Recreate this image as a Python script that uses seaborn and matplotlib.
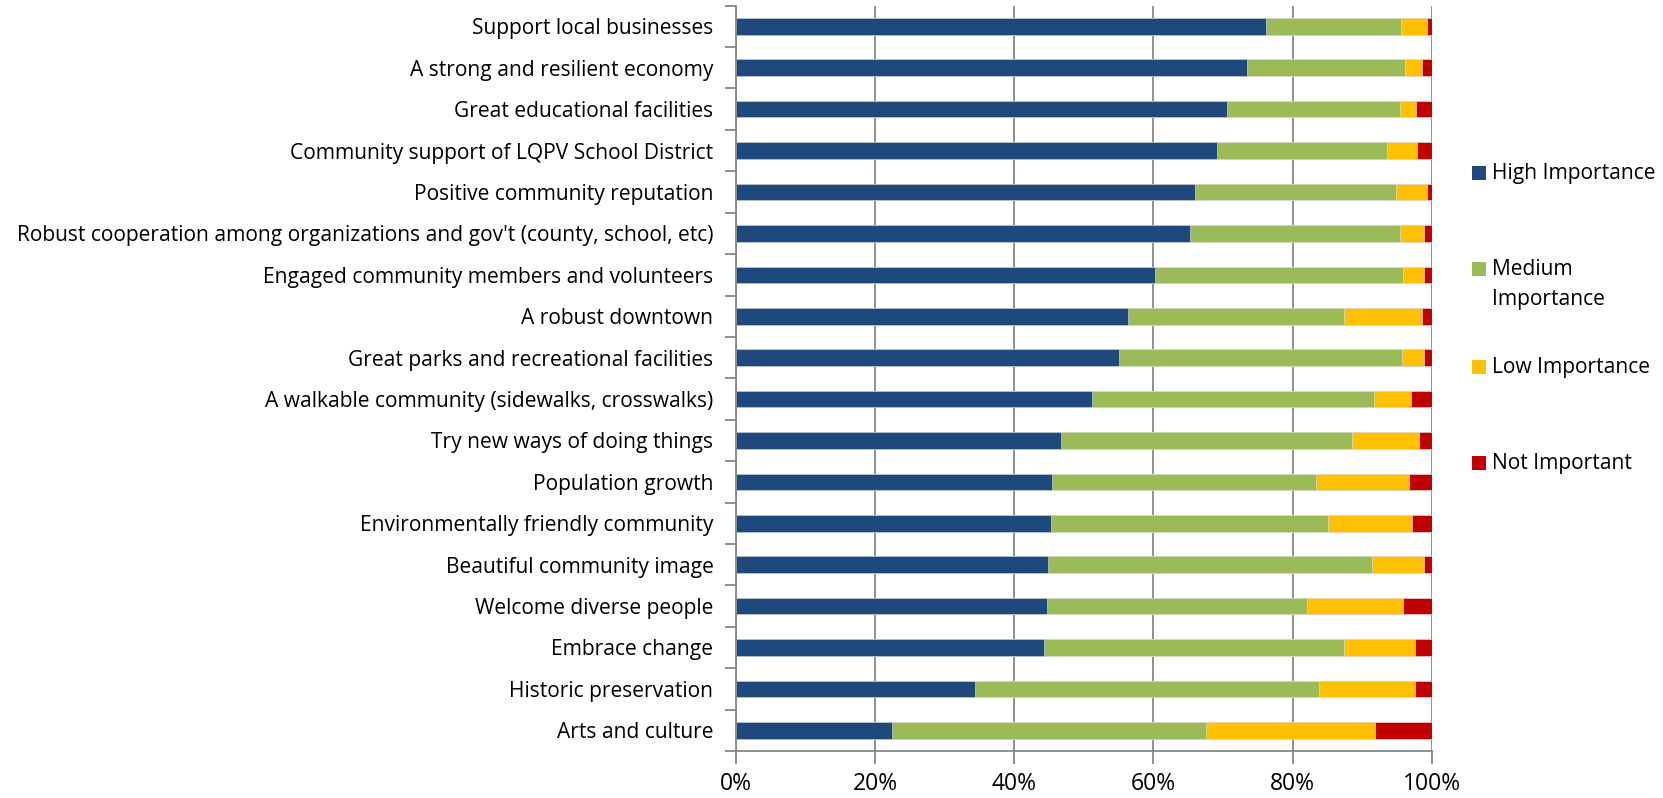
import matplotlib
matplotlib.use("Agg")
import matplotlib.pyplot as plt
from matplotlib.patches import Rectangle
import seaborn as sns
import pandas as pd
import numpy as np

# Survey items and share of responses (%) per importance level
categories = [
    "Support local businesses",
    "A strong and resilient economy",
    "Great educational facilities",
    "Community support of LQPV School District",
    "Positive community reputation",
    "Robust cooperation among organizations and gov't (county, school, etc)",
    "Engaged community members and volunteers",
    "A robust downtown",
    "Great parks and recreational facilities",
    "A walkable community (sidewalks, crosswalks)",
    "Try new ways of doing things",
    "Population growth",
    "Environmentally friendly community",
    "Beautiful community image",
    "Welcome diverse people",
    "Embrace change",
    "Historic preservation",
    "Arts and culture",
]
high_importance = [76.1, 73.5, 70.5, 69.1, 66.0, 65.2, 60.2, 56.3, 55.1, 51.1,
                   46.7, 45.4, 45.3, 44.9, 44.7, 44.3, 34.4, 22.5]
medium_importance = [19.4, 22.6, 24.9, 24.5, 28.8, 30.2, 35.6, 31.1, 40.6, 40.5,
                     41.8, 37.9, 39.7, 46.5, 37.4, 43.1, 49.3, 45.1]
low_importance = [3.8, 2.4, 2.3, 4.2, 4.5, 3.5, 3.1, 11.1, 3.2, 5.4,
                  9.6, 13.4, 12.1, 7.5, 13.8, 10.1, 13.8, 24.2]
not_important = [0.7, 1.5, 2.3, 2.2, 0.7, 1.1, 1.1, 1.5, 1.1, 3.0,
                 1.9, 3.3, 2.9, 1.1, 4.1, 2.5, 2.5, 8.2]

series_names = ["High Importance", "Medium Importance", "Low Importance", "Not Important"]
legend_labels = ["High Importance", "Medium\nImportance", "Low Importance", "Not Important"]
colors = ["#1F497D", "#9BBB59", "#FFC000", "#C00000"]

df = pd.DataFrame({
    "item": categories,
    "High Importance": high_importance,
    "Medium Importance": medium_importance,
    "Low Importance": low_importance,
    "Not Important": not_important,
})
cum = df[series_names].cumsum(axis=1)

sns.set_style("white")
plt.rcParams["font.family"] = ["Open Sans", "DejaVu Sans"]

fig = plt.figure(figsize=(16.63, 7.98), dpi=100)
ax = fig.add_axes([0.4424, 0.0589, 0.8611 - 0.4424, 0.9929 - 0.0589])

grid_color = "#878787"
ax.set_axisbelow(True)
ax.grid(axis="x", color=grid_color, linewidth=1.3)

# Stacked bars: draw cumulative totals from the outermost segment inward
for name, col in reversed(list(zip(series_names, colors))):
    sns.barplot(x=cum[name], y=df["item"], orient="h", color=col, width=0.4,
                saturation=1, edgecolor="#dfe6ee", linewidth=0.4, ax=ax)

ax.set_xlim(0, 100)
ax.set_ylim(len(categories) - 0.5, -0.5)
ax.set_xticks([0, 20, 40, 60, 80, 100])
ax.set_xticklabels([f"{v}%" for v in [0, 20, 40, 60, 80, 100]])
ax.set_xlabel("")
ax.set_ylabel("")

label_size = 15.1

# Category labels at bar centres, tick marks at category boundaries
ax.set_yticks(np.arange(len(categories)))
ax.set_yticks(np.arange(len(categories) + 1) - 0.5, minor=True)
ax.tick_params(axis="y", which="major", length=0, pad=16, labelsize=label_size, labelcolor="black")
ax.tick_params(axis="y", which="minor", length=8, width=1.3, color=grid_color, left=True)
ax.tick_params(axis="x", which="major", length=9, width=1.3, color=grid_color, bottom=True,
               pad=6, labelsize=16.5, labelcolor="black")

for side in ["top", "right"]:
    ax.spines[side].set_visible(False)
for side in ["left", "bottom"]:
    ax.spines[side].set_color(grid_color)
    ax.spines[side].set_linewidth(1.3)

# Legend at the right, square markers aligned with the first text line
W, H = fig.get_size_inches() * fig.dpi
legend_rows_px = [173, 269, 367, 463]
for lab, col, ypx in zip(legend_labels, colors, legend_rows_px):
    fig.patches.append(Rectangle((1472 / W, 1 - (ypx + 7) / H), 14 / W, 14 / H,
                                 transform=fig.transFigure, facecolor=col, edgecolor="none"))
    fig.text(1492 / W, 1 - (ypx - 10) / H, lab, fontsize=label_size, va="top", ha="left",
             linespacing=1.56, color="black")

fig.savefig("out.png", dpi=100)
